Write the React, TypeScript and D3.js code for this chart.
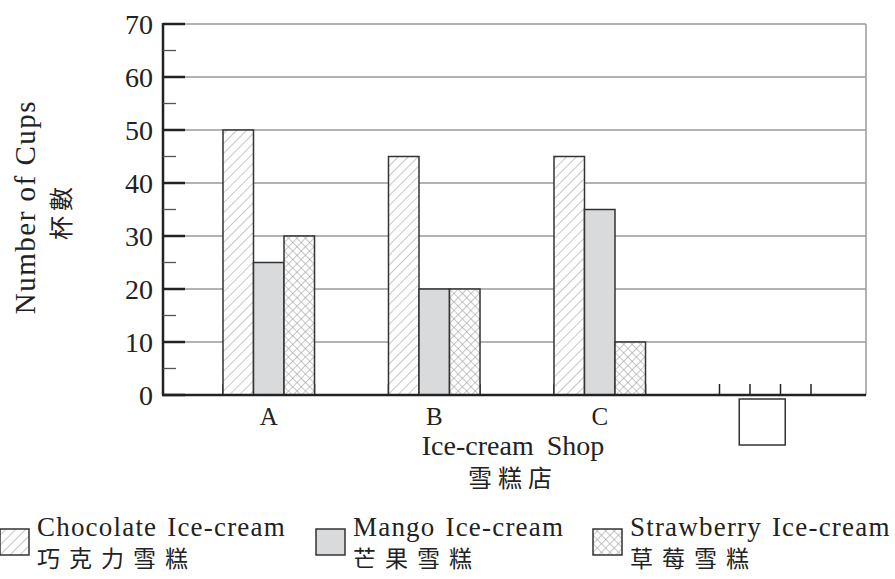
import React from 'react';
import * as d3 from 'd3';

const shops = ['A', 'B', 'C', ''];
const flavours = ['chocolate', 'mango', 'strawberry'];
const chocolate = [50, 45, 45];
const mango = [25, 20, 35];
const strawberry = [30, 20, 10];
const yTicks = [0, 10, 20, 30, 40, 50, 60, 70];
const legendEn = ['Chocolate Ice-cream', 'Mango Ice-cream', 'Strawberry Ice-cream'];
const legendZh = ['巧克力雪糕', '芒果雪糕', '草莓雪糕'];

const serif = 'Liberation Serif, Times New Roman, DejaVu Serif, serif';
const cjk = 'Noto Sans CJK TC, Noto Sans CJK SC, sans-serif';

const fills: Record<string, string> = {
  chocolate: 'url(#hatch)',
  mango: '#d9dadc',
  strawberry: 'url(#cross)',
};

const App: React.FC = () => {
  const left = 163;
  const right = 866;
  const top = 24;
  const bottom = 395;

  const y = d3.scaleLinear().domain([0, 70]).range([bottom, top]);
  const x = d3
    .scaleBand<string>()
    .domain(shops)
    .range([left, 871])
    .paddingInner(0.447)
    .paddingOuter(0.3625);
  const xi = d3.scaleBand<string>().domain(flavours).range([0, x.bandwidth()]);

  const values = [chocolate, mango, strawberry];
  const bars = shops.slice(0, 3).flatMap((shop, i) =>
    flavours.map((f, j) => ({ shop, f, v: values[j][i] }))
  );
  const minor = d3.range(5, 70, 10);
  const legendX = [0, 316, 593];
  const emptyShop = shops[3];

  return (
    <svg width={895} height={579} style={{ position: 'absolute', left: 0, top: 0 }}>
      <defs>
        <pattern id="hatch" width={7} height={7} patternUnits="userSpaceOnUse" patternTransform="rotate(45)">
          <rect width={7} height={7} fill="#fff" />
          <line x1={0} y1={0} x2={0} y2={7} stroke="#9a9a9a" strokeWidth={1.1} />
        </pattern>
        <pattern id="cross" width={6} height={6} patternUnits="userSpaceOnUse" patternTransform="rotate(45)">
          <rect width={6} height={6} fill="#fff" />
          <line x1={0} y1={0} x2={0} y2={6} stroke="#a0a0a0" strokeWidth={1.2} />
          <line x1={0} y1={0} x2={6} y2={0} stroke="#a0a0a0" strokeWidth={1.2} />
        </pattern>
      </defs>
      <rect width={895} height={579} fill="#fff" />

      {/* gridlines */}
      {yTicks.slice(1).map((t) => (
        <line key={t} x1={left} x2={right} y1={y(t)} y2={y(t)} stroke="#9a9a9a" strokeWidth={1.5} />
      ))}
      <line x1={right} x2={right} y1={top} y2={bottom} stroke="#9a9a9a" strokeWidth={1.5} />

      {/* bar edge ticks */}
      {shops.map((s) =>
        d3.range(4).map((k) => {
          const px = (x(s) as number) + (k * x.bandwidth()) / 3;
          return <line key={s + k} x1={px} x2={px} y1={bottom - 11} y2={bottom} stroke="#222" strokeWidth={1.5} />;
        })
      )}

      {/* bars */}
      {bars.map((b) => (
        <rect
          key={b.shop + b.f}
          x={(x(b.shop) as number) + (xi(b.f) as number)}
          y={y(b.v)}
          width={xi.bandwidth()}
          height={bottom - y(b.v)}
          fill={fills[b.f]}
          stroke="#333"
          strokeWidth={1.5}
        />
      ))}

      {/* y axis */}
      <line x1={left} x2={left} y1={top - 1} y2={bottom} stroke="#222" strokeWidth={2.5} />
      <line x1={left - 1} x2={right} y1={bottom} y2={bottom} stroke="#222" strokeWidth={2.5} />
      {yTicks.map((t) => (
        <g key={t}>
          <line x1={left} x2={185} y1={y(t)} y2={y(t)} stroke="#222" strokeWidth={2.5} />
          <text x={153} y={y(t)} dy="0.35em" textAnchor="end" style={{ fontFamily: serif }} fontSize={28} fill="#222">
            {t}
          </text>
        </g>
      ))}
      {minor.map((t) => (
        <line key={t} x1={left} x2={176} y1={y(t)} y2={y(t)} stroke="#555" strokeWidth={1.3} />
      ))}

      {/* x labels */}
      {shops.slice(0, 3).map((s) => (
        <text key={s} x={(x(s) as number) + x.bandwidth() / 2} y={425} textAnchor="middle" style={{ fontFamily: serif }} fontSize={25} fill="#222">
          {s}
        </text>
      ))}
      <rect
        x={(x(emptyShop) as number) + x.bandwidth() / 2 - 26}
        y={399}
        width={46}
        height={46}
        fill="none"
        stroke="#333"
        strokeWidth={1.5}
      />
      <text x={513} y={455} textAnchor="middle" style={{ fontFamily: serif, wordSpacing: 6 }} fontSize={28} fill="#222">
        Ice-cream Shop
      </text>
      <text x={513} y={487} textAnchor="middle" style={{ fontFamily: cjk, letterSpacing: 6 }} fontSize={24} fill="#222">
        雪糕店
      </text>

      {/* y title */}
      <text transform="translate(35,207) rotate(-90)" textAnchor="middle" style={{ fontFamily: serif, letterSpacing: 1.5 }} fontSize={29} fill="#222">
        Number of Cups
      </text>
      <text transform="translate(70,211) rotate(-90)" textAnchor="middle" style={{ fontFamily: cjk, letterSpacing: 5 }} fontSize={24} fill="#222">
        杯數
      </text>

      {/* legend */}
      {flavours.map((f, i) => (
        <g key={f} transform={`translate(${legendX[i]},0)`}>
          <rect x={0} y={529} width={29} height={26} fill={fills[f]} stroke="#333" strokeWidth={1.5} />
          <text x={37} y={536} style={{ fontFamily: serif, wordSpacing: 2, letterSpacing: 1.2 }} fontSize={27} fill="#222">
            {legendEn[i]}
          </text>
          <text x={37} y={567} style={{ fontFamily: cjk, letterSpacing: 9 }} fontSize={23} fill="#222">
            {legendZh[i]}
          </text>
        </g>
      ))}
    </svg>
  );
};

export default App;
